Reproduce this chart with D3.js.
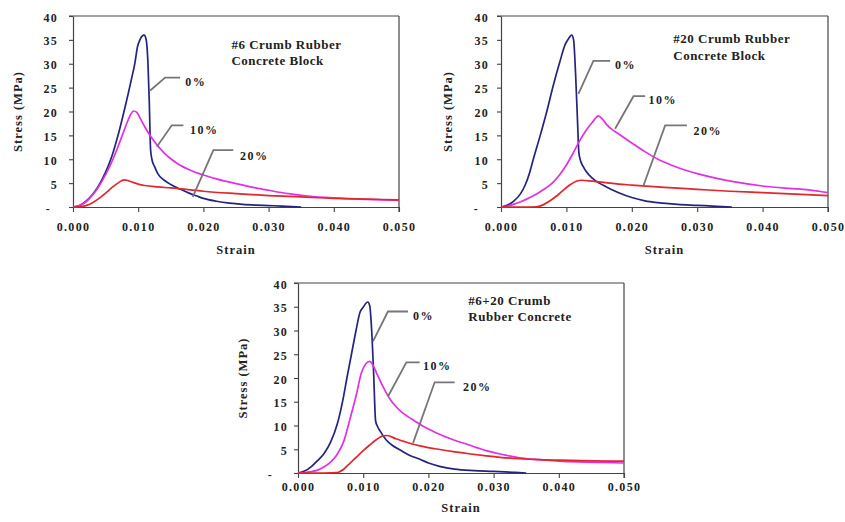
<!DOCTYPE html>
<html>
<head>
<meta charset="utf-8">
<script src="https://cdn.jsdelivr.net/npm/d3@7"></script>
<style>
  body { margin: 0; background: #fff; }
  svg text { font-family: "Liberation Serif", "Times New Roman", serif; font-weight: bold; fill: #222; }
</style>
</head>
<body>
<svg id="chart" width="845" height="522"></svg>
<script>
// ---- data: [strain, stress MPa] ----
var xTicks = [0, 0.01, 0.02, 0.03, 0.04, 0.05];
var xTickLabels = ['0.000', '0.010', '0.020', '0.030', '0.040', '0.050'];
var yTicks = [0, 5, 10, 15, 20, 25, 30, 35, 40];
var yTickLabels = ['-', '5', '10', '15', '20', '25', '30', '35', '40'];
var seriesNames = ['0%', '10%', '20%'];
var titles = [
  ['#6 Crumb Rubber', 'Concrete Block'],
  ['#20 Crumb Rubber', 'Concrete Block'],
  ['#6+20 Crumb', 'Rubber Concrete']
];

var no6_0 = [[0,0],[0.001,0.3],[0.002,1.2],[0.003,2.6],[0.004,4.6],[0.005,7.3],[0.006,10.8],[0.007,15.5],[0.008,21],[0.009,27],[0.0095,30.2],[0.0099,33.6],[0.0102,34.8],[0.0106,35.8],[0.0109,36],[0.0112,35.2],[0.0115,30],[0.0117,22],[0.0119,12],[0.0121,10],[0.0125,8.5],[0.013,7],[0.014,5.6],[0.015,4.7],[0.016,4],[0.017,3.4],[0.018,2.8],[0.019,2.3],[0.020,1.8],[0.022,1.2],[0.024,0.8],[0.026,0.55],[0.028,0.4],[0.030,0.3],[0.032,0.2],[0.035,0]];
var no6_10 = [[0,0],[0.001,0.3],[0.002,1.1],[0.003,2.5],[0.004,4.4],[0.005,6.8],[0.006,9.6],[0.007,13],[0.008,16.6],[0.0087,19],[0.0093,20.1],[0.0098,19.8],[0.0103,18.6],[0.011,16.8],[0.012,14.6],[0.013,12.8],[0.014,11.3],[0.015,10.1],[0.016,9.1],[0.018,7.7],[0.020,6.7],[0.022,5.9],[0.025,4.9],[0.028,4.0],[0.030,3.5],[0.033,2.8],[0.036,2.3],[0.040,1.9],[0.045,1.6],[0.050,1.4]];
var no6_20 = [[0,0],[0.001,0.05],[0.002,0.3],[0.003,0.9],[0.004,1.8],[0.005,2.9],[0.006,4.1],[0.007,5.1],[0.0078,5.7],[0.0085,5.5],[0.0093,5.1],[0.010,4.8],[0.011,4.5],[0.013,4.2],[0.015,4.0],[0.018,3.6],[0.020,3.3],[0.025,2.8],[0.030,2.4],[0.035,2.1],[0.040,1.8],[0.045,1.65],[0.050,1.5]];

var no20_0 = [[0,0],[0.001,0.4],[0.002,1.3],[0.003,2.8],[0.0037,4.6],[0.0044,7.3],[0.005,10.3],[0.006,15],[0.007,20],[0.008,25.5],[0.009,30.4],[0.0098,34],[0.0103,35.2],[0.0108,36],[0.0111,35],[0.0114,28],[0.0117,18],[0.0119,11.5],[0.0121,10],[0.0126,8.4],[0.013,7.5],[0.014,6],[0.015,5],[0.016,4.3],[0.018,3],[0.020,2],[0.022,1.3],[0.024,0.9],[0.027,0.55],[0.030,0.35],[0.033,0.15],[0.0353,0]];
var no20_10 = [[0,0],[0.001,0.2],[0.002,0.6],[0.003,1.1],[0.004,1.7],[0.005,2.4],[0.006,3.2],[0.007,4.1],[0.008,5.2],[0.009,6.8],[0.010,8.8],[0.011,11.2],[0.012,13.8],[0.013,16],[0.014,17.8],[0.0149,19.1],[0.0155,18.4],[0.0162,17.2],[0.017,16.2],[0.018,15.3],[0.020,13.4],[0.022,11.6],[0.024,10],[0.026,8.8],[0.028,7.8],[0.030,7],[0.033,6],[0.036,5.2],[0.040,4.4],[0.044,3.9],[0.047,3.6],[0.050,3.0]];
var no20_20 = [[0,0],[0.003,0],[0.0055,0.05],[0.0065,0.5],[0.0075,1.3],[0.0085,2.3],[0.0095,3.5],[0.0105,4.6],[0.0115,5.4],[0.0123,5.6],[0.014,5.4],[0.016,5.1],[0.018,4.8],[0.020,4.6],[0.025,4.1],[0.030,3.7],[0.035,3.3],[0.040,3.0],[0.045,2.7],[0.050,2.4]];

var mix_0 = [[0,0],[0.001,0.4],[0.002,1.3],[0.003,2.6],[0.004,4.1],[0.005,6.5],[0.006,10.2],[0.007,16.2],[0.0075,20],[0.0082,25],[0.0089,30],[0.0095,33.8],[0.0100,34.9],[0.0107,36],[0.011,35.2],[0.0113,30],[0.0116,21],[0.0119,11],[0.0122,9.8],[0.0127,8.6],[0.0135,7],[0.0145,5.8],[0.0156,4.9],[0.017,3.8],[0.0187,2.9],[0.020,2.1],[0.0217,1.4],[0.024,0.8],[0.027,0.5],[0.030,0.35],[0.033,0.15],[0.035,0]];
var mix_10 = [[0,0],[0.001,0.1],[0.002,0.3],[0.003,0.6],[0.004,1.3],[0.005,2.3],[0.006,3.9],[0.007,6.6],[0.008,11.5],[0.009,16.8],[0.0097,21],[0.0104,23],[0.011,23.5],[0.0115,22.7],[0.012,21.2],[0.013,18.3],[0.014,15.8],[0.015,14],[0.016,12.7],[0.0175,11.3],[0.019,10],[0.021,8.6],[0.0238,7],[0.026,6],[0.0289,4.7],[0.031,4],[0.034,3.2],[0.037,2.8],[0.040,2.5],[0.044,2.3],[0.050,2.1]];
var mix_20 = [[0,0],[0.004,0],[0.006,0.1],[0.007,0.8],[0.008,2.1],[0.009,3.4],[0.010,4.7],[0.011,5.9],[0.012,7],[0.013,7.8],[0.0137,7.9],[0.015,7.2],[0.0161,6.7],[0.0175,6.1],[0.0187,5.7],[0.021,5.1],[0.0238,4.5],[0.0265,4],[0.0289,3.6],[0.031,3.3],[0.034,3],[0.037,2.8],[0.040,2.7],[0.045,2.55],[0.050,2.5]];

// ---- layout ----
var colors = ['#25237f', '#e130e3', '#e1262c'];

// callout positions in data units: h = [x1, x2, y] elbow, tip = [x, y], lab = [x, y]
var panels = [
  { left: 73, right: 399, top: 16, bottom: 207, tickDy: 24, strainDy: 47, yLabelX: 18, yGap: 15, dashShift: 7,
    series: [no6_0, no6_10, no6_20], titleAt: [0.0243, 33.1],
    notes: [
      { h: [0.01413, 0.01643, 27.1], tip: [0.01184, 24.4], lab: [0.0172, 26.2] },
      { h: [0.01515, 0.01694, 17.1], tip: [0.01286, 12.6], lab: [0.01796, 16.2] },
      { h: [0.02153, 0.02459, 11.9], tip: [0.01837, 2.1], lab: [0.02561, 10.8] }
    ] },
  { left: 501, right: 828, top: 16, bottom: 207, tickDy: 24, strainDy: 47, yLabelX: 448, yGap: 12, dashShift: 10,
    series: [no20_0, no20_10, no20_20], titleAt: [0.02634, 34.3],
    notes: [
      { h: [0.01413, 0.01668, 30.6], tip: [0.01184, 23.7], lab: [0.01745, 29.7] },
      { h: [0.02026, 0.02204, 23.2], tip: [0.01745, 16.4], lab: [0.02255, 22.5] },
      { h: [0.0251, 0.02842, 17.1], tip: [0.02179, 4.5], lab: [0.02944, 16.05] }
    ] },
  { left: 298, right: 624, top: 283, bottom: 473, tickDy: 17.5, strainDy: 38.5, yLabelX: 243, yGap: 10, dashShift: 15,
    series: [mix_0, mix_10, mix_20], titleAt: [0.02612, 35.4],
    notes: [
      { h: [0.0138, 0.01687, 34.0], tip: [0.0115, 27.7], lab: [0.01764, 33.2] },
      { h: [0.01662, 0.01866, 23.3], tip: [0.0138, 16.1], lab: [0.01917, 22.5] },
      { h: [0.02096, 0.02403, 19.1], tip: [0.01764, 6.3], lab: [0.02531, 18.1] }
    ] }
];

var svg = d3.select('#chart');

panels.forEach(function(p, pi) {
  var x = d3.scaleLinear().domain([0, 0.05]).range([p.left, p.right]);
  var y = d3.scaleLinear().domain([0, 40]).range([p.bottom, p.top]);
  var g = svg.append('g');

  // frame: top + right border
  g.append('line').attr('x1', p.left - 4).attr('x2', p.right).attr('y1', p.top).attr('y2', p.top)
    .attr('stroke', '#444').attr('stroke-width', 1.2);
  g.append('line').attr('x1', p.right).attr('x2', p.right).attr('y1', p.top).attr('y2', p.bottom + 5)
    .attr('stroke', '#444').attr('stroke-width', 1.2);

  var xAxis = g.append('g').attr('transform', 'translate(0,' + p.bottom + ')')
    .call(d3.axisBottom(x).tickValues(xTicks).tickSize(5).tickSizeOuter(0)
      .tickFormat(function(d, i) { return xTickLabels[i]; }));
  xAxis.selectAll('text').attr('dy', null).attr('y', p.tickDy)
    .style('font-size', '12px').style('letter-spacing', '1.3px');

  var yAxis = g.append('g').attr('transform', 'translate(' + p.left + ',0)')
    .call(d3.axisLeft(y).tickValues(yTicks).tickSize(4).tickSizeOuter(0)
      .tickFormat(function(d, i) { return yTickLabels[i]; }));
  yAxis.selectAll('text')
    .attr('x', function(d) { return d === 0 ? -p.yGap - p.dashShift : -p.yGap; })
    .attr('dy', '0.42em')
    .style('font-size', '12px').style('letter-spacing', '1.3px');

  [xAxis, yAxis].forEach(function(a) {
    a.select('.domain').attr('stroke', '#444').attr('stroke-width', 1.2);
    a.selectAll('.tick line').attr('stroke', '#444').attr('stroke-width', 1.1);
  });

  // axis titles
  g.append('text').attr('x', (p.left + p.right) / 2).attr('y', p.bottom + p.strainDy)
    .attr('text-anchor', 'middle').style('font-size', '12.5px').style('letter-spacing', '1px')
    .text('Strain');
  g.append('text').attr('transform', 'translate(' + p.yLabelX + ',' + ((p.top + p.bottom) / 2) + ') rotate(-90)')
    .attr('text-anchor', 'middle').attr('dy', '0.35em').style('font-size', '12.5px').style('letter-spacing', '1px')
    .text('Stress (MPa)');

  // curves
  var line = d3.line().x(function(d) { return x(d[0]); }).y(function(d) { return y(d[1]); })
    .curve(d3.curveMonotoneX);
  p.series.forEach(function(s, si) {
    g.append('path').datum(s).attr('d', line).attr('fill', 'none')
      .attr('stroke', colors[si]).attr('stroke-width', 1.7).attr('stroke-linejoin', 'round');
  });

  // callouts
  p.notes.forEach(function(n, si) {
    g.append('polyline')
      .attr('points', [[x(n.tip[0]), y(n.tip[1])], [x(n.h[0]), y(n.h[2])], [x(n.h[1]), y(n.h[2])]].join(' '))
      .attr('fill', 'none').attr('stroke', '#767676').attr('stroke-width', 1.8);
    g.append('text').attr('x', x(n.lab[0])).attr('y', y(n.lab[1])).attr('dy', '0.35em')
      .style('font-size', '12px').style('letter-spacing', '1.5px').attr('fill', '#333')
      .text(seriesNames[si]);
  });

  // title
  var t = g.append('text').attr('x', x(p.titleAt[0])).attr('y', y(p.titleAt[1]))
    .style('font-size', '13px').style('letter-spacing', '0.5px');
  titles[pi].forEach(function(s, li) {
    t.append('tspan').attr('x', x(p.titleAt[0])).attr('dy', li === 0 ? 0 : 16.5).text(s);
  });
});
</script>
</body>
</html>
